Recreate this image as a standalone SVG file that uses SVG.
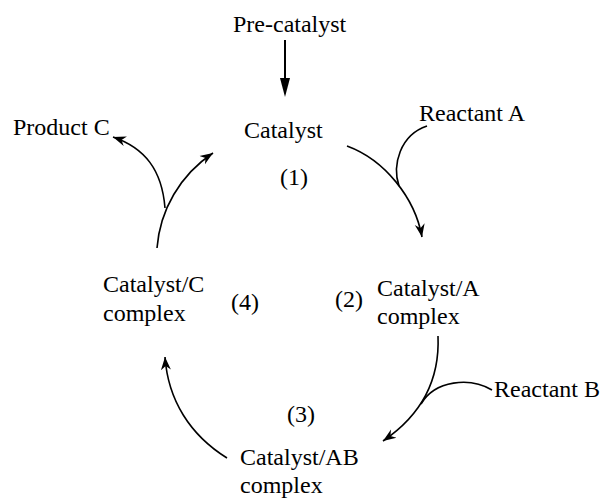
<svg xmlns="http://www.w3.org/2000/svg" width="602" height="499" viewBox="0 0 602 499">
<style>
text{font-family:'Liberation Serif','DejaVu Serif',serif;font-size:24px;fill:#000}
.c{fill:none;stroke:#000;stroke-width:1.6}
</style>
<defs>
<marker id="ah" markerUnits="userSpaceOnUse" markerWidth="14" markerHeight="12" viewBox="0 0 14 12" refX="13" refY="6" orient="auto">
<path d="M0,1 L13,6 L0,11 L4,6 Z" fill="#000"/>
</marker>
</defs>
<rect width="602" height="499" fill="#fff"/>
<g id="connectors">
<line x1="285" y1="40" x2="285" y2="80" stroke="#000" stroke-width="2"/>
<path d="M280,78 L290,78 L285,97 Z" fill="#000"/>
<path class="c" d="M347,146 C385,160 415,198 422,237" marker-end="url(#ah)"/>
<path class="c" d="M427,126 C400,135 392,165 399,186"/>
<path class="c" d="M438,336 C440,382 420,416 383,441" marker-end="url(#ah)"/>
<path class="c" d="M492,390 C470,377 435,380 421,404"/>
<path class="c" d="M227,458 C190,435 168,400 165,357" marker-end="url(#ah)"/>
<path class="c" d="M157,248 C160,210 180,175 213,153" marker-end="url(#ah)"/>
<path class="c" d="M165,208 C162,170 145,148 113,137" marker-end="url(#ah)"/>
</g>
<g font-family="Liberation Serif, serif">
<g id="precatalyst"><text x="233" y="32">Pre-catalyst</text></g>
<g id="catalyst"><text x="244" y="138">Catalyst</text></g>
<g id="step1"><text x="280" y="185">(1)</text></g>
<g id="reactantA"><text x="419" y="121">Reactant A</text></g>
<g id="productC"><text x="13" y="135">Product C</text></g>
<g id="catalystC"><text x="103" y="292">Catalyst/C</text><text x="103" y="321">complex</text></g>
<g id="step4"><text x="231" y="310">(4)</text></g>
<g id="step2"><text x="335" y="307">(2)</text></g>
<g id="catalystA"><text x="377" y="296">Catalyst/A</text><text x="377" y="324">complex</text></g>
<g id="reactantB"><text x="494" y="397">Reactant B</text></g>
<g id="step3"><text x="287" y="422">(3)</text></g>
<g id="catalystAB"><text x="240" y="465">Catalyst/AB</text><text x="240" y="493">complex</text></g>
</g>
</svg>
